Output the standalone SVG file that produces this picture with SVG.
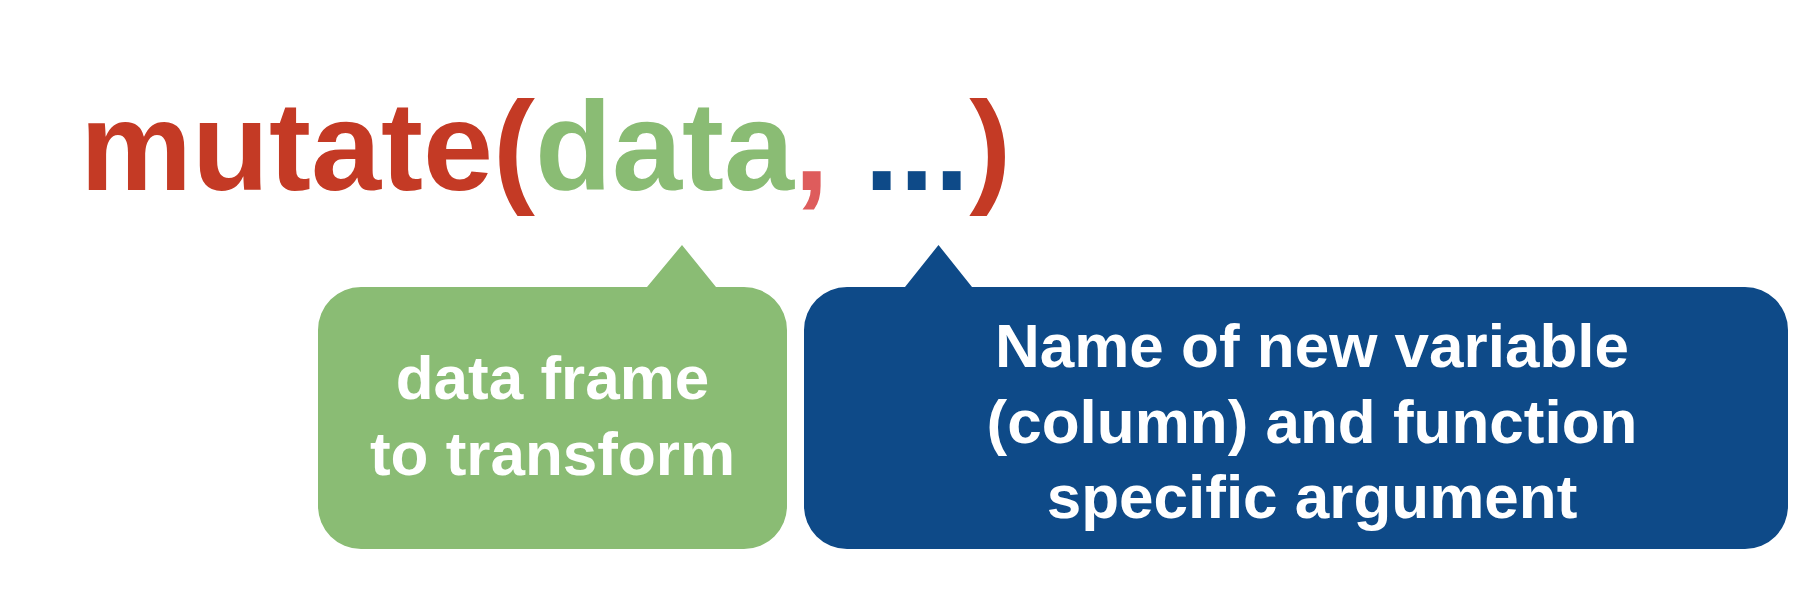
<svg xmlns="http://www.w3.org/2000/svg" width="1804" height="594" viewBox="0 0 1804 594">
  <style>
    .title { font-family: "Liberation Sans", Arial, sans-serif; font-weight: bold; font-size: 126px; }
    .red { fill: #C43A25; }
    .green { fill: #8ABC74; }
    .comma { fill: #DE5C5C; }
    .blue { fill: #0E4A88; }
    .label { font-family: "Liberation Sans", Arial, sans-serif; font-weight: bold; font-size: 62px; fill: #FFFFFF; text-anchor: middle; }
  </style>
  <rect width="1804" height="594" fill="#FFFFFF"/>
  <g id="code">
    <text class="title" x="80" y="190"><tspan class="red">mutate(</tspan><tspan class="green">data</tspan><tspan class="comma">,</tspan><tspan class="blue"> ...</tspan><tspan class="red">)</tspan></text>
  </g>
  <g id="connectors"></g>
  <g id="data-callout">
    <path class="green" d="M 361,287 H 647 L 682,245 L 716,287 H 744 A 43 43 0 0 1 787,330 V 506 A 43 43 0 0 1 744,549 H 361 A 43 43 0 0 1 318,506 V 330 A 43 43 0 0 1 361,287 Z"/>
    <text class="label" x="552.5" y="399">data frame</text>
    <text class="label" x="552.5" y="475">to transform</text>
  </g>
  <g id="dots-callout">
    <path class="blue" d="M 847,287 H 905 L 938.5,245 L 972,287 H 1745 A 43 43 0 0 1 1788,330 V 506 A 43 43 0 0 1 1745,549 H 847 A 43 43 0 0 1 804,506 V 330 A 43 43 0 0 1 847,287 Z"/>
    <text class="label" x="1312" y="367">Name of new variable</text>
    <text class="label" x="1312" y="443">(column) and function</text>
    <text class="label" x="1312" y="518">specific argument</text>
  </g>
</svg>
